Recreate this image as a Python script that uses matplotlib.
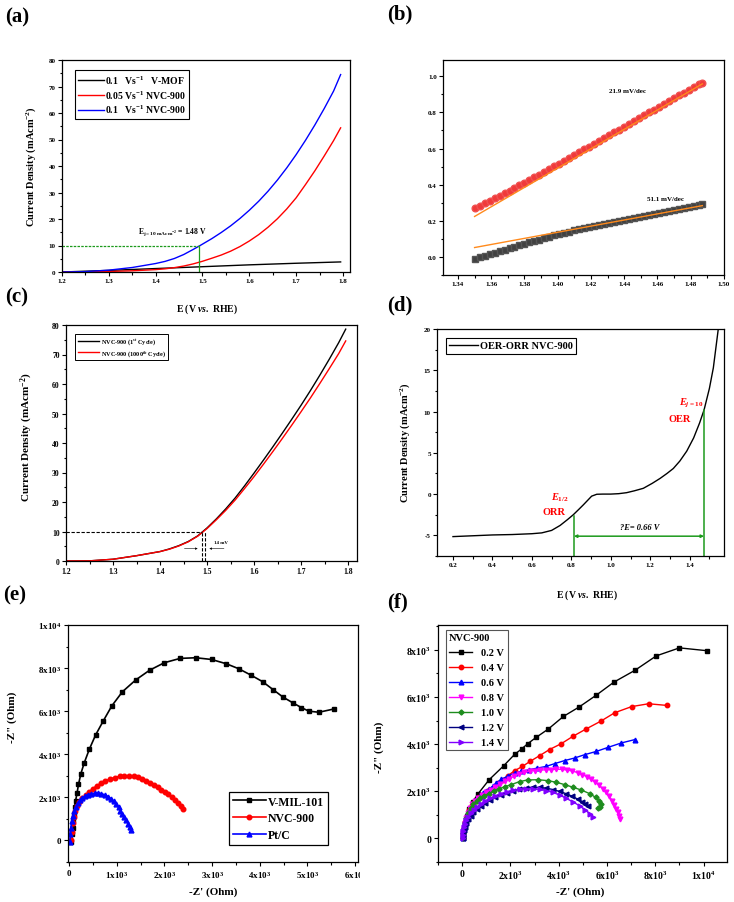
import matplotlib
matplotlib.use("Agg")
import matplotlib.pyplot as plt
from matplotlib.ticker import FixedLocator, FixedFormatter, MultipleLocator
from matplotlib.transforms import Bbox, TransformedBbox

# ---------------- (a) LSV curves, E (V vs RHE) / j (mA cm-2)
a_mof_E = [1.20, 1.30, 1.40, 1.50, 1.60, 1.70, 1.795]
a_mof_j = [0.0, 0.6, 1.3, 2.0, 2.7, 3.3, 3.8]
a_red_E = [1.20, 1.25, 1.30, 1.35, 1.40, 1.42, 1.44, 1.46, 1.48, 1.50, 1.52, 1.54,
           1.56, 1.58, 1.60, 1.62, 1.64, 1.66, 1.68, 1.70, 1.72, 1.74, 1.76, 1.78,
           1.795]
a_red_j = [0.0, 0.08, 0.2, 0.45, 0.9, 1.2, 1.65, 2.25, 3.05, 4.05, 5.2, 6.4, 7.85,
           9.6, 11.7, 14.1, 16.9, 20.1, 23.8, 28.0, 33.0, 38.2, 43.8, 49.6, 54.4]
a_blue_E = [1.20, 1.25, 1.30, 1.35, 1.40, 1.42, 1.44, 1.46, 1.48, 1.495, 1.52,
            1.54, 1.56, 1.58, 1.60, 1.62, 1.64, 1.66, 1.68, 1.70, 1.72, 1.74, 1.76,
            1.78, 1.795]
a_blue_j = [0.0, 0.15, 0.7, 1.7, 3.2, 4.0, 5.1, 6.6, 8.5, 10.0, 12.6, 14.9, 17.4,
            20.2, 23.3, 26.7, 30.5, 34.7, 39.3, 44.3, 49.7, 55.5, 61.7, 68.3, 74.5]
a_labels = ["0.1   Vs$^{-1}$   V-MOF", "0.05 Vs$^{-1}$ NVC-900",
            "0.1   Vs$^{-1}$ NVC-900"]
a_onset_E = 1.493

# ---------------- (b) Tafel
b_E = [1.350, 1.353, 1.356, 1.359, 1.362, 1.365, 1.368, 1.371, 1.374, 1.377,
       1.380, 1.383, 1.386, 1.389, 1.392, 1.395, 1.398, 1.401, 1.404, 1.407,
       1.410, 1.413, 1.416, 1.419, 1.422, 1.425, 1.428, 1.431, 1.434, 1.437,
       1.440, 1.443, 1.446, 1.449, 1.452, 1.455, 1.458, 1.461, 1.464, 1.467,
       1.470, 1.473, 1.476, 1.479, 1.482, 1.485, 1.487]
b_red = [0.270, 0.283, 0.297, 0.311, 0.325, 0.339, 0.353, 0.367, 0.382, 0.396,
         0.411, 0.426, 0.441, 0.456, 0.471, 0.486, 0.502, 0.517, 0.533, 0.548,
         0.564, 0.580, 0.595, 0.611, 0.627, 0.642, 0.658, 0.674, 0.690, 0.705,
         0.721, 0.737, 0.753, 0.768, 0.784, 0.800, 0.816, 0.831, 0.847, 0.863,
         0.879, 0.894, 0.910, 0.926, 0.942, 0.957, 0.965]
b_black = [-0.010, -0.002, 0.006, 0.014, 0.023, 0.031, 0.039, 0.047, 0.056, 0.064,
           0.072, 0.080, 0.088, 0.096, 0.103, 0.111, 0.119, 0.126, 0.133, 0.140,
           0.147, 0.153, 0.159, 0.165, 0.170, 0.176, 0.182, 0.188, 0.194, 0.199,
           0.205, 0.211, 0.217, 0.223, 0.228, 0.234, 0.240, 0.245, 0.251, 0.256,
           0.262, 0.267, 0.273, 0.278, 0.283, 0.288, 0.291]
b_fit_E = [1.350, 1.487]
b_fit_red = [0.224, 0.958]
b_fit_black = [0.052, 0.284]

# ---------------- (c) stability
c_E = [1.20, 1.25, 1.30, 1.35, 1.40, 1.42, 1.44, 1.46, 1.48, 1.50, 1.52, 1.54,
       1.56, 1.58, 1.60, 1.62, 1.64, 1.66, 1.68, 1.70, 1.72, 1.74, 1.76, 1.78,
       1.795]
c_first = [0.0, 0.05, 0.6, 1.8, 3.2, 4.1, 5.2, 6.6, 8.5, 11.2, 14.3, 17.7, 21.4,
           25.5, 29.8, 34.2, 38.7, 43.3, 48.0, 52.8, 57.8, 63.0, 68.4, 74.0, 78.6]
c_last = [0.0, 0.05, 0.6, 1.8, 3.2, 4.0, 5.1, 6.5, 8.4, 11.0, 14.0, 17.2, 20.7,
          24.6, 28.6, 32.8, 37.1, 41.5, 46.0, 50.6, 55.3, 60.2, 65.2, 70.3, 74.6]
c_labels = ["NVC-900 (1$^{st}$ Cycle)", "NVC-900 (1000$^{th}$ Cycle)"]
c_marks = [1.489, 1.496]

# ---------------- (d) OER-ORR
d_E = [0.20, 0.30, 0.40, 0.50, 0.60, 0.65, 0.70, 0.743, 0.78, 0.81, 0.84, 0.861,
       0.885, 0.903, 0.929, 0.96, 1.00, 1.04, 1.08, 1.12, 1.165, 1.21, 1.25,
       1.285, 1.317, 1.35, 1.385, 1.42, 1.45, 1.473, 1.50, 1.52, 1.545, 1.56]
d_j = [-5.15, -5.05, -4.95, -4.9, -4.8, -4.7, -4.4, -3.8, -3.1, -2.5, -1.8, -1.3,
       -0.7, -0.25, -0.02, 0.0, 0.0, 0.05, 0.17, 0.4, 0.7, 1.3, 1.9, 2.5, 3.1,
       4.0, 5.2, 6.8, 8.6, 10.2, 12.8, 15.3, 20.0, 23.0]
d_orr_E, d_orr_j = 0.813, -2.6
d_oer_E, d_oer_j = 1.473, 10.2

# ---------------- (e) Nyquist, kOhm
e_mil_x = [0.05, 0.07, 0.08, 0.09, 0.10, 0.12, 0.14, 0.17, 0.20, 0.25, 0.32, 0.43,
           0.56, 0.72, 0.90, 1.12, 1.40, 1.69, 2.00, 2.33, 2.66, 2.99, 3.30, 3.56,
           3.81, 4.06, 4.28, 4.49, 4.70, 4.87, 5.03, 5.24, 5.55]
e_mil_y = [-0.05, 0.30, 0.60, 0.95, 1.25, 1.55, 1.85, 2.20, 2.60, 3.10, 3.60, 4.25,
           4.90, 5.55, 6.25, 6.90, 7.45, 7.90, 8.25, 8.45, 8.48, 8.40, 8.20, 7.97,
           7.68, 7.37, 7.00, 6.65, 6.38, 6.17, 6.00, 5.95, 6.10]
e_nvc_x = [0.05, 0.06, 0.08, 0.10, 0.13, 0.17, 0.22, 0.28, 0.35, 0.42, 0.50, 0.58,
           0.67, 0.76, 0.86, 0.96, 1.06, 1.16, 1.26, 1.36, 1.45, 1.54, 1.62, 1.70,
           1.78, 1.86, 1.94, 2.01, 2.08, 2.15, 2.22, 2.28, 2.34, 2.40]
e_nvc_y = [0.00, 0.40, 0.80, 1.10, 1.35, 1.60, 1.80, 1.95, 2.10, 2.25, 2.40, 2.53,
           2.65, 2.75, 2.85, 2.92, 2.97, 3.00, 3.00, 2.98, 2.93, 2.86, 2.78, 2.68,
           2.58, 2.47, 2.36, 2.26, 2.15, 2.03, 1.88, 1.74, 1.60, 1.45]
e_pt_x = [0.02, 0.03, 0.04, 0.06, 0.08, 0.11, 0.14, 0.18, 0.23, 0.28, 0.34, 0.40,
          0.47, 0.54, 0.61, 0.68, 0.75, 0.82, 0.88, 0.94, 0.99, 1.04, 1.08, 1.12,
          1.16, 1.20, 1.24, 1.28, 1.31]
e_pt_y = [-0.05, 0.30, 0.60, 0.90, 1.15, 1.38, 1.56, 1.72, 1.86, 1.97, 2.06, 2.13,
          2.17, 2.19, 2.20, 2.17, 2.12, 2.04, 1.94, 1.82, 1.68, 1.53, 1.38, 1.23,
          1.08, 0.93, 0.78, 0.62, 0.47]
e_labels = ["V-MIL-101", "NVC-900", "Pt/C"]
e_xticks = [0, 1000, 2000, 3000, 4000, 5000, 6000]
e_xticklabels = ["0", "1x10$^3$", "2x10$^3$", "3x10$^3$", "4x10$^3$", "5x10$^3$", "6x10$^3$"]
e_yticks = [0, 2000, 4000, 6000, 8000, 10000]
e_yticklabels = ["0", "2x10$^3$", "4x10$^3$", "6x10$^3$", "8x10$^3$", "1x10$^4$"]

# ---------------- (f) Nyquist at different potentials, kOhm
f02_x = [0.02, 0.05, 0.10, 0.20, 0.30, 0.44, 0.65, 1.12, 1.72, 2.17, 2.47, 2.72,
         3.06, 3.57, 4.19, 4.84, 5.55, 6.29, 7.16, 8.04, 9.00, 10.14]
f02_y = [0.00, 0.30, 0.65, 0.95, 1.25, 1.56, 1.88, 2.49, 3.08, 3.56, 3.80, 4.02,
         4.28, 4.64, 5.17, 5.57, 6.07, 6.63, 7.13, 7.74, 8.08, 7.96]
f04_x = [0.02, 0.04, 0.07, 0.12, 0.20, 0.30, 0.42, 0.55, 0.70, 0.93, 1.10, 1.30,
         1.48, 1.69, 1.89, 2.17, 2.49, 2.82, 3.21, 3.62, 4.11, 4.59, 5.15, 5.74,
         6.32, 7.02, 7.72, 8.48]
f04_y = [0.00, 0.20, 0.45, 0.70, 0.95, 1.20, 1.42, 1.60, 1.76, 1.92, 2.06, 2.20,
         2.37, 2.49, 2.66, 2.87, 3.05, 3.27, 3.51, 3.77, 4.02, 4.33, 4.65, 4.97,
         5.33, 5.59, 5.71, 5.64]
f06_x = [0.02, 0.04, 0.07, 0.11, 0.17, 0.25, 0.34, 0.45, 0.58, 0.72, 0.88, 1.00,
         1.13, 1.27, 1.42, 1.62, 1.90, 2.17, 2.45, 2.76, 3.10, 3.46, 3.83, 4.24,
         4.66, 5.07, 5.56, 6.04, 6.60, 7.15]
f06_y = [0.00, 0.22, 0.45, 0.68, 0.90, 1.10, 1.30, 1.48, 1.65, 1.80, 1.94, 2.02,
         2.10, 2.22, 2.36, 2.50, 2.65, 2.77, 2.84, 2.91, 2.98, 3.05, 3.17, 3.30,
         3.41, 3.55, 3.69, 3.86, 4.05, 4.19]
f08_x = [0.02, 0.04, 0.07, 0.11, 0.16, 0.23, 0.31, 0.41, 0.53, 0.67, 0.83, 1.00,
         1.18, 1.37, 1.56, 1.76, 1.96, 2.16, 2.37, 2.58, 2.80, 3.02, 3.24, 3.46,
         3.68, 3.90, 4.12, 4.34, 4.56, 4.78, 4.98, 5.17, 5.35, 5.52, 5.68, 5.83,
         5.97, 6.10, 6.21, 6.31, 6.39, 6.45, 6.50, 6.53]
f08_y = [0.00, 0.22, 0.45, 0.67, 0.88, 1.08, 1.27, 1.45, 1.60, 1.73, 1.84, 1.95,
         2.06, 2.19, 2.30, 2.42, 2.54, 2.64, 2.73, 2.80, 2.85, 2.88, 2.90, 2.91,
         2.92, 2.93, 2.93, 2.90, 2.86, 2.79, 2.71, 2.61, 2.50, 2.38, 2.25, 2.10,
         1.95, 1.78, 1.60, 1.42, 1.25, 1.10, 0.95, 0.82]
f10_x = [0.02, 0.04, 0.07, 0.11, 0.17, 0.25, 0.35, 0.47, 0.60, 0.75, 0.92, 1.10,
         1.30, 1.52, 1.76, 2.03, 2.38, 2.72, 3.14, 3.55, 3.90, 4.25, 4.59, 4.94,
         5.28, 5.53, 5.68, 5.74, 5.72, 5.64]
f10_y = [0.00, 0.22, 0.45, 0.67, 0.88, 1.08, 1.27, 1.44, 1.57, 1.70, 1.80, 1.90,
         2.00, 2.10, 2.19, 2.28, 2.41, 2.48, 2.49, 2.45, 2.38, 2.28, 2.17, 2.05,
         1.90, 1.74, 1.58, 1.45, 1.35, 1.28]
f12_x = [0.02, 0.04, 0.07, 0.11, 0.17, 0.25, 0.35, 0.47, 0.61, 0.77, 0.95, 1.15,
         1.37, 1.60, 1.85, 2.10, 2.37, 2.65, 2.93, 3.21, 3.49, 3.77, 4.04, 4.30,
         4.55, 4.78, 4.98, 5.10, 5.21]
f12_y = [0.00, 0.17, 0.34, 0.50, 0.66, 0.81, 0.96, 1.10, 1.24, 1.38, 1.52, 1.64,
         1.76, 1.86, 1.94, 2.02, 2.10, 2.15, 2.17, 2.16, 2.13, 2.07, 1.99, 1.90,
         1.79, 1.67, 1.55, 1.45, 1.37]
f14_x = [0.02, 0.03, 0.05, 0.08, 0.12, 0.18, 0.26, 0.36, 0.48, 0.62, 0.78, 0.96,
         1.16, 1.38, 1.60, 1.84, 2.10, 2.38, 2.65, 2.93, 3.21, 3.49, 3.76, 4.04,
         4.31, 4.59, 4.87, 5.10, 5.30, 5.42]
f14_y = [0.00, 0.16, 0.32, 0.48, 0.63, 0.78, 0.92, 1.06, 1.20, 1.34, 1.47, 1.60,
         1.71, 1.81, 1.90, 1.98, 2.04, 2.08, 2.10, 2.10, 2.08, 2.03, 1.95, 1.84,
         1.70, 1.55, 1.38, 1.20, 1.04, 0.92]
f_labels = ["0.2 V", "0.4 V", "0.6 V", "0.8 V", "1.0 V", "1.2 V", "1.4 V"]
f_xticks = [0, 2000, 4000, 6000, 8000, 10000]
f_xticklabels = ["0", "2x10$^3$", "4x10$^3$", "6x10$^3$", "8x10$^3$", "1x10$^4$"]
f_yticks = [0, 2000, 4000, 6000, 8000]
f_yticklabels = ["0", "2x10$^3$", "4x10$^3$", "6x10$^3$", "8x10$^3$"]

W, H = 734, 903
SERIF = "Liberation Serif"
plt.rcParams.update({
    "font.family": SERIF,
    "font.weight": "bold",
    "axes.labelweight": "bold",
    "axes.unicode_minus": False,
    "mathtext.fontset": "custom",
    "mathtext.rm": SERIF + ":bold",
    "mathtext.bf": SERIF + ":bold",
    "mathtext.it": SERIF + ":italic:bold",
    "axes.linewidth": 0.9,
    "legend.fancybox": False,
    "legend.edgecolor": "black",
    "legend.framealpha": 1.0,
})

fig = plt.figure(figsize=(W / 100, H / 100), dpi=100)


def add_ax(box):
    l, t, r, b = box
    return fig.add_axes([l / W, 1 - b / H, (r - l) / W, (b - t) / H])


def style(ax, size, xmaj, xmin, ymaj, ymin, pad=1.5):
    if xmaj:
        ax.xaxis.set_major_locator(MultipleLocator(xmaj))
    if ymaj:
        ax.yaxis.set_major_locator(MultipleLocator(ymaj))
    ax.xaxis.set_minor_locator(MultipleLocator(xmin))
    ax.yaxis.set_minor_locator(MultipleLocator(ymin))
    ax.tick_params(which="both", direction="out", top=False, right=False,
                   width=0.8, labelsize=size, pad=pad)
    ax.tick_params(which="major", length=3)
    ax.tick_params(which="minor", length=1.8)


def xlabel_at(ax, box, text, cx, top, size):
    l, t, r, b = box
    ax.set_xlabel(text, fontsize=size)
    ax.xaxis.set_label_coords((cx - l) / (r - l), 1 - (top - t) / (b - t))


def ylabel_at(ax, box, text, right, cy, size):
    l, t, r, b = box
    ax.set_ylabel(text, fontsize=size)
    ax.yaxis.set_label_coords((right - l) / (r - l), 1 - (cy - t) / (b - t))


def legend_at(ax, box, px, py, **kw):
    l, t, r, b = box
    return ax.legend(loc="upper left", borderaxespad=0,
                     bbox_to_anchor=((px - l) / (r - l), 1 - (py - t) / (b - t)), **kw)


VS = r"E (V $\mathit{vs.}$ RHE)"
CD = r"Current Density (mAcm$^{-2}$)"
GREEN = "#1c9a1c"

# ---------------- (a)
box_a = (62, 61, 350, 273)
ax = add_ax(box_a)
ax.plot(a_mof_E, a_mof_j, color="black", lw=1.0, label=a_labels[0])
ax.plot(a_red_E, a_red_j, color="red", lw=1.0, label=a_labels[1])
ax.plot(a_blue_E, a_blue_j, color="blue", lw=1.0, label=a_labels[2])
ax.plot([1.2, a_onset_E], [10, 10], color=GREEN, lw=0.9, ls=(0, (2, 1)))
ax.plot([a_onset_E, a_onset_E], [0, 10], color=GREEN, lw=0.9)
ax.text(1.435, 15.5, r"E$_{\mathrm{j=10\ mAcm^{-2}}}$ = 1.48 V", fontsize=5.5,
        ha="center", va="center")
ax.set_xlim(1.2, 1.815)
ax.set_ylim(0, 80)
style(ax, 5, 0.1, 0.05, 10, 5)
legend_at(ax, box_a, 75, 71, fontsize=7, handlelength=2.6, borderpad=0.35,
          labelspacing=0.25, handletextpad=0.1).get_frame().set_linewidth(0.8)
ylabel_at(ax, box_a, CD, 38, 167, 7.5)

fig.text(207 / W, 1 - 303 / H, VS, fontsize=7, ha="center", va="top")

# ---------------- (b)
box_b = (443, 61, 724, 276)
ax = add_ax(box_b)
ax.plot(b_E, b_red, ls="none", marker="o", ms=4.8, color="#f03a3a", mec="#f05050")
ax.plot(b_E, b_black, ls="none", marker="s", ms=4.3, color="#404040", mec="#555555")
ax.plot(b_fit_E, b_fit_red, color="#ff8a1c", lw=1.0)
ax.plot(b_fit_E, b_fit_black, color="#ff8a1c", lw=1.0)
ax.text(1.442, 0.92, "21.9 mV/dec", fontsize=5, ha="center", va="center")
ax.text(1.465, 0.325, "51.1 mV/dec", fontsize=5, ha="center", va="center")
ax.set_xlim(1.331, 1.50)
ax.set_ylim(-0.1, 1.09)
style(ax, 5, 0.02, 0.01, 0.2, 0.1)

# ---------------- (c)
box_c = (66, 326, 357, 562)
ax = add_ax(box_c)
ax.plot(c_E, c_first, color="black", lw=1.0, label=c_labels[0])
ax.plot(c_E, c_last, color="red", lw=1.0, label=c_labels[1])
ax.plot([1.2, c_marks[0]], [10, 10], color="black", lw=0.8, ls=(0, (3, 1.5)))
for m in c_marks:
    ax.plot([m, m], [0, 10], color="black", lw=0.8, ls=(0, (3, 1.5)))
ax.annotate("", xy=(c_marks[0] - 0.003, 4.2), xytext=(1.446, 4.2),
            arrowprops=dict(arrowstyle="-|>", color="black", lw=0.4,
                            mutation_scale=3))
ax.annotate("", xy=(c_marks[1] + 0.003, 4.2), xytext=(1.542, 4.2),
            arrowprops=dict(arrowstyle="-|>", color="black", lw=0.4,
                            mutation_scale=3))
ax.text(1.529, 6.5, "14 mV", fontsize=3.5, ha="center", va="center")
ax.set_xlim(1.2, 1.819)
ax.set_ylim(0, 80)
style(ax, 5.5, 0.1, 0.05, 10, 5)
legend_at(ax, box_c, 75, 335, fontsize=4.5, handlelength=3.5, borderpad=0.4,
          labelspacing=0.25, handletextpad=0.2).get_frame().set_linewidth(0.7)
ylabel_at(ax, box_c, CD, 35, 437, 8)

# ---------------- (d)
box_d = (437, 330, 724, 557)
ax = add_ax(box_d)
ax.plot(d_E, d_j, color="black", lw=1.0, label="OER-ORR NVC-900")
ax.plot([d_orr_E, d_orr_E], [-7.5, d_orr_j], color=GREEN, lw=1.1)
ax.plot([d_oer_E, d_oer_E], [-7.5, d_oer_j], color=GREEN, lw=1.1)
ax.annotate("", xy=(d_orr_E, -5.1), xytext=(d_oer_E, -5.1),
            arrowprops=dict(arrowstyle="<|-|>", color=GREEN, lw=1.1,
                            mutation_scale=4, shrinkA=0, shrinkB=0))
ax.text(1.148, -4.0, "?E= 0.66 V", fontsize=6, style="italic", ha="center",
        va="center")
ax.text(0.744, -0.3, r"$E_{\mathit{1/2}}$", fontsize=7.5, color="red",
        ha="center", va="center")
ax.text(0.71, -2.1, "ORR", fontsize=7.5, color="red", ha="center", va="center")
ax.text(1.41, 11.1, r"$E_{\mathit{j=10}}$", fontsize=7.5, color="red",
        ha="center", va="center")
ax.text(1.35, 9.2, "OER", fontsize=7.5, color="red", ha="center", va="center")
ax.set_xlim(0.119, 1.574)
ax.set_ylim(-7.5, 20)
style(ax, 5, 0.2, 0.1, 5, 2.5)
legend_at(ax, box_d, 446, 339, fontsize=7.5, handlelength=2.8, borderpad=0.3,
          handletextpad=0.2).get_frame().set_linewidth(0.8)
ylabel_at(ax, box_d, CD, 412, 443, 7.5)
fig.text(587 / W, 1 - 589 / H, VS, fontsize=7, ha="center", va="top")

# ---------------- (e)
box_e = (68, 626, 358, 863)
ax = add_ax(box_e)
ax.plot([v * 1000 for v in e_mil_x], [v * 1000 for v in e_mil_y], color="black",
        lw=1.2, marker="s", ms=3.3, label=e_labels[0])
ax.plot([v * 1000 for v in e_nvc_x], [v * 1000 for v in e_nvc_y], color="red",
        lw=1.2, marker="o", ms=3.3, label=e_labels[1])
ax.plot([v * 1000 for v in e_pt_x], [v * 1000 for v in e_pt_y], color="blue",
        lw=1.2, marker="^", ms=3.5, label=e_labels[2])
ax.set_xlim(-20, 6060)
ax.set_ylim(-1000, 10000)
style(ax, 6.5, None, 500, None, 1000, pad=2)
ax.xaxis.set_major_locator(FixedLocator(e_xticks))
ax.xaxis.set_major_formatter(FixedFormatter(e_xticklabels))
ax.yaxis.set_major_locator(FixedLocator(e_yticks))
ax.yaxis.set_major_formatter(FixedFormatter(e_yticklabels))
legend_at(ax, box_e, 229, 793, fontsize=8.5, handlelength=2.8, borderpad=0.3,
          labelspacing=0.42, handletextpad=0.2).get_frame().set_linewidth(0.9)
xlabel_at(ax, box_e, "-Z' (Ohm)", 213, 887, 8)
ylabel_at(ax, box_e, '-Z" (Ohm)', 17, 717, 8)
ax_e = ax

# ---------------- (f)
box_f = (438, 626, 727, 863)
ax = add_ax(box_f)
f_series = [(f02_x, f02_y, "black", "s", 3.2), (f04_x, f04_y, "red", "o", 3.2),
            (f06_x, f06_y, "blue", "^", 3.4), (f08_x, f08_y, "#ff00ff", "v", 3.4),
            (f10_x, f10_y, "#1e8c1e", "D", 2.6), (f12_x, f12_y, "#000080", "<", 3.4),
            (f14_x, f14_y, "#8000ff", ">", 3.4)]
for (xs, ys, col, mk, ms), lab in zip(f_series, f_labels):
    ax.plot([v * 1000 for v in xs], [v * 1000 for v in ys], color=col, lw=1.0,
            marker=mk, ms=ms, label=lab)
ax.set_xlim(-1000, 10970)
ax.set_ylim(-1000, 9050)
style(ax, 7, None, 1000, None, 1000, pad=2)
ax.xaxis.set_major_locator(FixedLocator(f_xticks))
ax.xaxis.set_major_formatter(FixedFormatter(f_xticklabels))
ax.yaxis.set_major_locator(FixedLocator(f_yticks))
ax.yaxis.set_major_formatter(FixedFormatter(f_yticklabels))
leg = legend_at(ax, box_f, 446, 631, fontsize=7.5, title="NVC-900",
                title_fontproperties={"weight": "bold", "size": 7.5},
                handlelength=2.2, borderpad=0.3, labelspacing=0.55,
                handletextpad=0.9)
leg._legend_box.align = "left"
leg.get_frame().set_linewidth(0.8)
leg.get_frame().set_edgecolor("#555555")
xlabel_at(ax, box_f, "-Z' (Ohm)", 580, 887, 8)
ylabel_at(ax, box_f, '-Z" (Ohm)', 384, 747, 8)

# ---------------- panel letters
for letter, x, y in [("(a)", 5, 7), ("(b)", 387, 4), ("(c)", 5, 287),
                     ("(d)", 387, 295), ("(e)", 3, 585), ("(f)", 387, 592)]:
    fig.text(x / W, 1 - y / H, letter, fontsize=15, ha="left", va="top")

# the right end of panel (e) is cut in the source figure
fig.canvas.draw()
clip = TransformedBbox(Bbox.from_extents(0, 0, 360 / W, 1), fig.transFigure)
for lbl in ax_e.get_xticklabels():
    lbl.set_clip_box(clip)
    lbl.set_clip_on(True)

fig.savefig("out.png", dpi=100)
